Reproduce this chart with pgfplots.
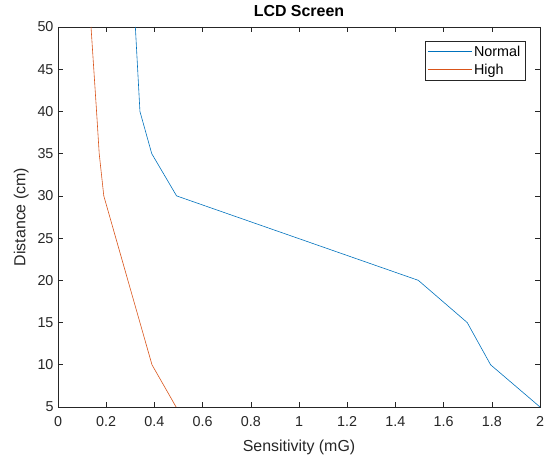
\documentclass[border=0pt]{standalone}
\usepackage{pgfplots}
\pgfplotsset{compat=1.18}
\usepackage{fontspec}
\setmainfont{Liberation Sans}
\definecolor{mblue}{RGB}{0,114,189}
\definecolor{morange}{RGB}{217,83,25}
\definecolor{axgray}{RGB}{38,38,38}
\begin{document}
\begin{tikzpicture}[x=1bp,y=1bp]
\begin{axis}[
  name=ax, at={(0,0)}, anchor=south west,
  scale only axis, width=482bp, height=380bp,
  xmin=0, xmax=2, ymin=5, ymax=50,
  xtick={0,0.2,...,2}, ytick={5,10,...,50},
  tick align=inside, tick pos=both,
  axis line style={axgray, line width=0.6pt},
  tick style={axgray, line width=0.6pt},
  major tick length=5bp,
  ticklabel style={font=\fontsize{14.4}{16}\selectfont, text=axgray},
  xticklabel style={yshift=-6bp},
  yticklabel style={xshift=-1bp},
  /pgf/number format/assume math mode=true,
  xticklabel={\pgfmathprintnumber[fixed]{\tick}},
  xlabel={Sensitivity (mG)}, ylabel={Distance (cm)},
  label style={font=\fontsize{16}{18}\selectfont, text=axgray},
  xlabel style={yshift=-6bp},
  ylabel style={yshift=2bp},
  title={\textbf{LCD Screen}},
  title style={font=\fontsize{16}{18}\selectfont, yshift=1bp},
  legend style={at={(0.969,0.963)}, anchor=north east,
    font=\fontsize{14.4}{16}\selectfont, draw=axgray, line width=0.5pt,
    row sep=2pt, inner sep=2.5bp},
  legend cell align=left,
  legend image code/.code={\draw[#1] (0cm,0cm) -- (44bp,0cm);},
]
\addplot[draw=mblue, line width=0.6pt] coordinates {
 (0.321,50) (0.34,40) (0.389,35) (0.492,30) (1.495,20) (1.698,15) (1.795,10) (2,5)};
\addlegendentry{Normal}
\addplot[draw=morange, line width=0.6pt] coordinates {
 (0.137,50) (0.16,40) (0.171,35) (0.19,30) (0.39,10) (0.49,5)};
\addlegendentry{High}
\end{axis}
\pgfresetboundingbox
\path (-58bp,-52bp) rectangle (488bp,407bp);
\end{tikzpicture}
\end{document}
